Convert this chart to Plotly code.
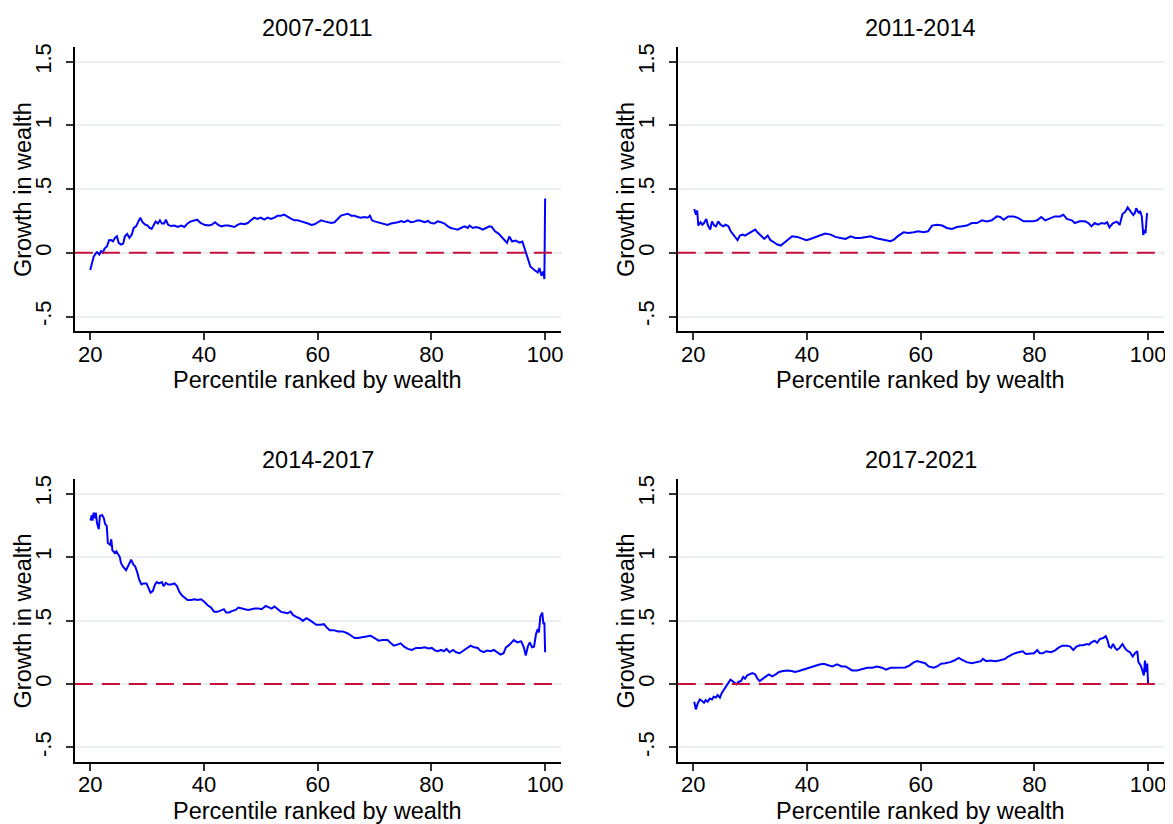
import plotly.graph_objects as go

# ---------------- data ----------------
titles = ["2007-2011", "2011-2014", "2014-2017", "2017-2021"]
x_title = "Percentile ranked by wealth"
y_title = "Growth in wealth"
x_ticks = [20, 40, 60, 80, 100]
y_tickvals = [-0.5, 0, 0.5, 1, 1.5]
y_ticktext = ["-.5", "0", ".5", "1", "1.5"]

p1_x = [20.0, 20.3, 20.6, 20.96, 21.2, 21.6, 21.9, 22.2, 22.5, 22.95, 23.3, 23.7, 24.0, 24.35, 24.7, 25.0, 25.4, 25.8, 26.1, 26.5,
        26.9, 27.3, 27.65, 28.05, 28.47, 28.8, 29.2, 29.6, 30.1, 30.45, 30.8, 31.16, 31.5, 31.9, 32.25, 32.6, 33.0, 33.3, 33.7, 34.2,
        34.8, 35.4, 36.0, 36.55, 37.1, 37.7, 38.3, 38.8, 39.4, 40.07, 40.8, 41.35, 41.95, 42.5, 43.1, 43.7, 44.3, 44.9, 45.35, 45.9,
        46.5, 47.1, 47.7, 48.26, 48.85, 49.4, 50.0, 50.6, 51.2, 51.8, 52.4, 52.95, 53.55, 54.1, 54.77, 55.36, 55.95, 56.5, 57.1, 57.7,
        58.3, 58.9, 59.45, 60.04, 60.6, 61.2, 61.8, 62.4, 62.96, 63.55, 64.1, 64.7, 65.3, 65.9, 66.45, 67.06, 67.6, 68.2, 68.8, 69.2,
        69.55, 70.0, 70.6, 71.2, 71.8, 72.3, 72.9, 73.5, 74.1, 74.7, 75.2, 75.85, 76.4, 77.0, 77.6, 78.2, 78.8, 79.4, 79.9, 80.5,
        81.1, 81.7, 82.3, 82.9, 83.4, 84.06, 84.6, 85.2, 85.8, 86.4, 86.7, 87.3, 87.85, 88.45, 89.0, 89.6, 90.2, 90.6, 91.2, 91.8,
        92.4, 92.85, 93.3, 93.7, 94.2, 94.8, 95.5, 96.0, 96.4, 96.9, 97.4, 98.05, 98.7, 99.0, 99.35, 99.7, 99.87, 100.0]
p1_y = [-0.135, -0.073, -0.031, -0.005, 0.005, -0.013, 0.013, 0.0, 0.031, 0.052, 0.099, 0.10, 0.091, 0.117, 0.13, 0.078, 0.065, 0.073, 0.13, 0.148,
        0.117, 0.143, 0.195, 0.208, 0.24, 0.276, 0.24, 0.224, 0.214, 0.195, 0.188, 0.22, 0.245, 0.23, 0.255, 0.23, 0.23, 0.26, 0.22, 0.21,
        0.214, 0.203, 0.214, 0.203, 0.23, 0.247, 0.255, 0.26, 0.234, 0.22, 0.214, 0.22, 0.24, 0.22, 0.208, 0.214, 0.214, 0.208, 0.203, 0.219,
        0.23, 0.224, 0.234, 0.255, 0.276, 0.266, 0.276, 0.26, 0.276, 0.266, 0.276, 0.292, 0.292, 0.3, 0.281, 0.266, 0.255, 0.255, 0.247, 0.24,
        0.23, 0.219, 0.224, 0.24, 0.255, 0.247, 0.24, 0.234, 0.24, 0.266, 0.292, 0.3, 0.307, 0.292, 0.292, 0.281, 0.276, 0.281, 0.276, 0.292,
        0.255, 0.247, 0.24, 0.234, 0.224, 0.219, 0.23, 0.234, 0.24, 0.25, 0.24, 0.255, 0.24, 0.245, 0.255, 0.25, 0.24, 0.25, 0.234, 0.23,
        0.247, 0.24, 0.23, 0.208, 0.195, 0.188, 0.182, 0.195, 0.208, 0.195, 0.214, 0.195, 0.203, 0.195, 0.182, 0.195, 0.208, 0.203, 0.169, 0.151,
        0.125, 0.099, 0.078, 0.128, 0.089, 0.096, 0.08, 0.089, 0.036, -0.029, -0.107, -0.133, -0.154, -0.12, -0.18, -0.146, -0.206, 0.427]

p2_x = [20.18, 20.5, 20.7, 20.9, 21.3, 21.6, 21.9, 22.3, 22.6, 23.0, 23.3, 23.7, 24.0, 24.4, 24.8, 25.3, 25.7, 26.2, 26.6, 27.2,
        27.8, 28.2, 28.7, 29.1, 29.8, 30.4, 30.9, 31.3, 31.9, 32.5, 33.1, 33.6, 34.2, 34.8, 35.4, 36.0, 36.6, 37.4, 38.3, 39.2,
        39.9, 40.6, 41.5, 42.4, 43.2, 44.2, 45.0, 45.9, 46.8, 47.7, 48.5, 49.4, 50.3, 51.2, 52.0, 52.9, 53.8, 54.7, 55.3, 56.1,
        57.0, 57.9, 58.8, 59.6, 60.5, 61.3, 62.0, 62.9, 63.8, 64.6, 65.5, 66.4, 67.3, 68.1, 69.0, 69.9, 70.8, 71.6, 72.5, 73.4,
        74.0, 74.6, 75.4, 76.3, 77.2, 78.1, 78.9, 79.8, 80.5, 81.2, 81.9, 82.75, 83.6, 84.5, 85.1, 85.7, 86.6, 87.1, 88.0, 88.9,
        89.5, 90.05, 90.6, 91.2, 91.8, 92.4, 92.8, 93.2, 93.8, 94.5, 95.0, 95.5, 96.0, 96.4, 96.95, 97.4, 97.7, 97.9, 98.4, 98.6,
        98.9, 99.15, 99.35, 99.55, 99.8, 99.95]
p2_y = [0.344, 0.30, 0.333, 0.214, 0.24, 0.221, 0.234, 0.266, 0.214, 0.182, 0.247, 0.214, 0.208, 0.247, 0.221, 0.208, 0.221, 0.208, 0.169, 0.135,
        0.099, 0.135, 0.143, 0.135, 0.156, 0.169, 0.182, 0.161, 0.135, 0.109, 0.135, 0.099, 0.083, 0.065, 0.057, 0.078, 0.104, 0.13, 0.125, 0.109,
        0.099, 0.109, 0.125, 0.143, 0.151, 0.143, 0.125, 0.117, 0.109, 0.13, 0.117, 0.117, 0.125, 0.13, 0.117, 0.109, 0.104, 0.091, 0.104, 0.135,
        0.161, 0.156, 0.161, 0.169, 0.161, 0.169, 0.214, 0.221, 0.214, 0.195, 0.188, 0.203, 0.208, 0.214, 0.234, 0.234, 0.255, 0.247, 0.255, 0.286,
        0.281, 0.26, 0.286, 0.286, 0.273, 0.247, 0.247, 0.247, 0.255, 0.281, 0.255, 0.273, 0.286, 0.286, 0.299, 0.266, 0.255, 0.234, 0.247, 0.247,
        0.234, 0.208, 0.234, 0.221, 0.234, 0.229, 0.24, 0.20, 0.232, 0.245, 0.219, 0.305, 0.323, 0.357, 0.323, 0.297, 0.315, 0.349, 0.31, 0.33,
        0.284, 0.14, 0.18, 0.154, 0.305, 0.31]

p3_x = [20.03, 20.27, 20.4, 20.6, 20.85, 20.97, 21.2, 21.5, 21.7, 22.1, 22.4, 22.6, 22.9, 23.1, 23.5, 23.7, 23.9, 24.3, 24.6, 24.9,
        25.2, 25.4, 25.8, 26.3, 26.6, 27.0, 27.2, 27.6, 27.9, 28.3, 28.6, 29.0, 29.4, 29.9, 30.2, 30.6, 31.0, 31.4, 31.7, 32.1,
        32.6, 32.9, 33.3, 33.7, 34.2, 34.8, 35.25, 35.7, 36.1, 36.55, 37.1, 37.7, 38.3, 38.9, 39.5, 40.1, 40.65, 41.25, 41.8, 42.4,
        43.0, 43.5, 43.9, 44.4, 45.0, 45.6, 46.05, 46.6, 47.2, 47.8, 48.4, 48.95, 49.6, 50.15, 50.85, 51.45, 51.9, 52.4, 52.95, 53.55,
        54.1, 54.7, 55.24, 55.65, 56.24, 56.8, 57.4, 58.0, 58.6, 59.2, 59.75, 60.5, 61.1, 61.5, 62.1, 62.85, 63.55, 64.4, 65.3, 65.9,
        66.5, 67.05, 67.8, 68.5, 69.3, 70.0, 70.7, 71.45, 72.3, 72.9, 73.4, 74.0, 74.6, 75.2, 75.85, 76.55, 77.3, 78.2, 78.8, 79.5,
        80.07, 80.65, 81.1, 81.7, 82.2, 82.65, 83.2, 83.8, 84.35, 84.95, 85.5, 86.3, 86.9, 87.5, 88.15, 88.6, 89.2, 89.8, 90.4, 90.97,
        91.56, 92.15, 92.7, 93.1, 93.55, 93.85, 94.5, 95.1, 95.8, 96.25, 96.6, 96.95, 97.3, 97.7, 98.05, 98.4, 98.7, 98.9, 99.15, 99.5,
        99.7, 99.87, 100.0]
p3_y = [1.287, 1.33, 1.287, 1.349, 1.305, 1.349, 1.266, 1.22, 1.323, 1.331, 1.305, 1.261, 1.245, 1.11, 1.097, 1.14, 1.052, 1.031, 1.044, 1.018,
        1.0, 0.953, 0.922, 0.896, 0.922, 0.966, 0.979, 0.94, 0.927, 0.875, 0.823, 0.784, 0.792, 0.792, 0.758, 0.719, 0.732, 0.784, 0.802, 0.792,
        0.802, 0.771, 0.797, 0.784, 0.784, 0.792, 0.771, 0.724, 0.698, 0.68, 0.661, 0.661, 0.667, 0.661, 0.667, 0.646, 0.62, 0.602, 0.568, 0.568,
        0.583, 0.589, 0.563, 0.563, 0.576, 0.583, 0.602, 0.594, 0.589, 0.583, 0.589, 0.594, 0.594, 0.589, 0.615, 0.602, 0.594, 0.61, 0.589, 0.568,
        0.563, 0.557, 0.57, 0.544, 0.529, 0.518, 0.497, 0.518, 0.503, 0.485, 0.466, 0.466, 0.471, 0.45, 0.424, 0.424, 0.414, 0.414, 0.398, 0.38,
        0.362, 0.362, 0.367, 0.372, 0.38, 0.362, 0.341, 0.346, 0.346, 0.32, 0.302, 0.31, 0.32, 0.294, 0.276, 0.268, 0.284, 0.284, 0.289, 0.279,
        0.284, 0.263, 0.258, 0.268, 0.258, 0.276, 0.25, 0.268, 0.25, 0.242, 0.258, 0.284, 0.302, 0.289, 0.284, 0.263, 0.25, 0.263, 0.258, 0.268,
        0.25, 0.232, 0.242, 0.289, 0.302, 0.315, 0.346, 0.328, 0.336, 0.289, 0.224, 0.294, 0.328, 0.289, 0.294, 0.393, 0.432, 0.406, 0.529, 0.5625,
        0.471, 0.484, 0.25]

p4_x = [20.18, 20.46, 20.8, 21.17, 21.5, 21.9, 22.2, 22.56, 22.9, 23.3, 23.6, 23.98, 24.3, 24.7, 25.03, 25.4, 25.85, 26.2, 26.55, 26.9,
        27.25, 27.6, 27.95, 28.4, 28.8, 29.1, 29.5, 29.95, 30.4, 30.9, 31.3, 31.7, 32.2, 32.8, 33.3, 33.9, 34.5, 35.1, 35.8, 36.55,
        37.3, 37.9, 38.6, 39.3, 40.05, 40.8, 41.5, 42.2, 42.96, 43.7, 44.45, 45.3, 46.1, 46.8, 47.4, 47.95, 48.8, 49.7, 50.6, 51.5,
        52.3, 53.2, 53.9, 54.7, 55.5, 56.4, 57.3, 58.0, 58.8, 59.35, 60.2, 60.8, 61.4, 62.3, 62.9, 63.6, 64.3, 65.2, 65.9, 66.7,
        67.3, 68.1, 69.0, 69.9, 70.6, 70.95, 71.55, 72.3, 73.1, 73.85, 74.4, 74.85, 75.4, 76.3, 77.2, 77.95, 78.5, 79.25, 79.95, 80.5,
        80.96, 81.5, 82.1, 82.9, 83.6, 84.2, 84.9, 85.7, 86.3, 86.85, 87.4, 88.0, 88.6, 89.2, 89.6, 90.05, 90.6, 91.05, 91.5, 92.1,
        92.55, 92.85, 93.15, 93.5, 93.85, 94.2, 94.55, 95.0, 95.5, 95.9, 96.3, 96.8, 97.3, 97.7, 98.1, 98.3, 98.7, 98.95, 99.25, 99.45,
        99.65, 99.85, 100.0]
p4_y = [-0.14, -0.2, -0.153, -0.122, -0.132, -0.148, -0.127, -0.14, -0.114, -0.122, -0.101, -0.107, -0.088, -0.107, -0.07, -0.044, -0.01, 0.016, 0.034, 0.023,
        0.008, -0.003, 0.016, 0.023, 0.055, 0.042, 0.068, 0.076, 0.086, 0.076, 0.042, 0.023, 0.042, 0.06, 0.076, 0.06, 0.076, 0.094, 0.102, 0.107,
        0.102, 0.094, 0.102, 0.112, 0.128, 0.138, 0.146, 0.154, 0.159, 0.146, 0.138, 0.154, 0.138, 0.138, 0.12, 0.107, 0.107, 0.12, 0.128, 0.128,
        0.138, 0.128, 0.112, 0.128, 0.128, 0.133, 0.13, 0.145, 0.17, 0.18, 0.172, 0.164, 0.138, 0.128, 0.138, 0.159, 0.164, 0.172, 0.185, 0.206,
        0.19, 0.172, 0.164, 0.172, 0.18, 0.198, 0.18, 0.185, 0.18, 0.185, 0.19, 0.198, 0.216, 0.237, 0.25, 0.258, 0.237, 0.242, 0.242, 0.268,
        0.242, 0.242, 0.258, 0.25, 0.263, 0.284, 0.302, 0.302, 0.294, 0.268, 0.294, 0.305, 0.305, 0.315, 0.31, 0.328, 0.341, 0.325, 0.354, 0.362,
        0.378, 0.346, 0.294, 0.284, 0.315, 0.284, 0.268, 0.284, 0.315, 0.284, 0.263, 0.25, 0.216, 0.242, 0.258, 0.172, 0.146, 0.112, 0.068, 0.185,
        0.094, 0.16, 0.0]

series_x = [p1_x, p2_x, p3_x, p4_x]
series_y = [p1_y, p2_y, p3_y, p4_y]

# ---------------- layout ----------------
PAGE_W, PAGE_H = 1173, 824
OFF = 8  # default body margin of the html page
W, H = PAGE_W - OFF, PAGE_H - OFF
FONT = "Liberation Sans, Arial, sans-serif"
LINE_BLUE = "#0000ff"
ZERO_RED = "#c8103c"
GRID = "#e9f0f3"
TICK_SIZE = 22
TEXT_SIZE = 23.5


def px_x(page_x):
    return (page_x - OFF) / W


def px_y(page_y):
    return 1 - (page_y - OFF) / H


# panel boxes in page pixels: (left, right, top, bottom)
boxes = [(75, 562, 43, 329), (679, 1166, 43, 329),
         (75, 562, 477, 762), (679, 1166, 477, 762)]

fig = go.Figure()
layout = dict(
    width=W, height=H,
    margin=dict(l=0, r=0, t=0, b=0),
    paper_bgcolor="white", plot_bgcolor="white",
    showlegend=False,
    font=dict(family=FONT, size=TICK_SIZE, color="black"),
)
annotations = []
shapes = []

for i in range(4):
    l, r, t, b = boxes[i]
    top_row = t < 100
    xa = "xaxis" if i == 0 else f"xaxis{i+1}"
    ya = "yaxis" if i == 0 else f"yaxis{i+1}"
    xr = "x" if i == 0 else f"x{i+1}"
    yr = "y" if i == 0 else f"y{i+1}"
    layout[xa] = dict(
        domain=[px_x(l), px_x(r)], anchor=yr, range=[17.3, 102.8],
        tickvals=x_ticks, ticks="outside", ticklen=7, tickwidth=1.5, tickcolor="#333333",
        ticklabelstandoff=-5,
        showline=True, linecolor="black", linewidth=1.5, showgrid=False, zeroline=False,
        tickfont=dict(family=FONT, size=TICK_SIZE, color="black"), fixedrange=True,
    )
    layout[ya] = dict(
        domain=[px_y(b), px_y(t)], anchor=xr, range=[-0.617, 1.617],
        tickvals=y_tickvals, ticktext=y_ticktext, tickangle=-90,
        ticks="outside", ticklen=7, tickwidth=1.5, tickcolor="#333333",
        ticklabelstandoff=6,
        showline=True, linecolor="black", linewidth=1.5,
        showgrid=True, gridcolor=GRID, gridwidth=1.5, zeroline=False,
        tickfont=dict(family=FONT, size=TICK_SIZE, color="black"), fixedrange=True,
    )
    fig.add_trace(go.Scatter(
        x=series_x[i], y=series_y[i], mode="lines",
        line=dict(color=LINE_BLUE, width=2), xaxis=xr, yaxis=yr,
        hoverinfo="skip",
    ))
    # zero reference line
    shapes.append(dict(
        type="line", xref=f"{xr} domain", yref=yr, x0=0, x1=1, y0=0, y1=0,
        line=dict(color=ZERO_RED, width=2, dash="18px,9px"), layer="above",
    ))
    cx = px_x((l + r) / 2)
    title_y = 24 if top_row else 458
    annotations.append(dict(text=titles[i], x=cx, y=px_y(title_y), xref="paper", yref="paper",
                            showarrow=False, xanchor="center", yanchor="middle",
                            font=dict(family=FONT, size=TEXT_SIZE, color="black")))
    xt_y = 378 if top_row else 811
    annotations.append(dict(text=x_title, x=cx, y=px_y(xt_y), xref="paper", yref="paper",
                            showarrow=False, xanchor="center", yanchor="middle",
                            font=dict(family=FONT, size=TEXT_SIZE, color="black")))
    annotations.append(dict(text=y_title, x=px_x(l - 52), y=px_y((t + b) / 2), xref="paper", yref="paper",
                            showarrow=False, xanchor="center", yanchor="middle", textangle=-90,
                            font=dict(family=FONT, size=TEXT_SIZE, color="black")))

layout["annotations"] = annotations
layout["shapes"] = shapes
fig.update_layout(**layout)

fig.write_html("out.html")
